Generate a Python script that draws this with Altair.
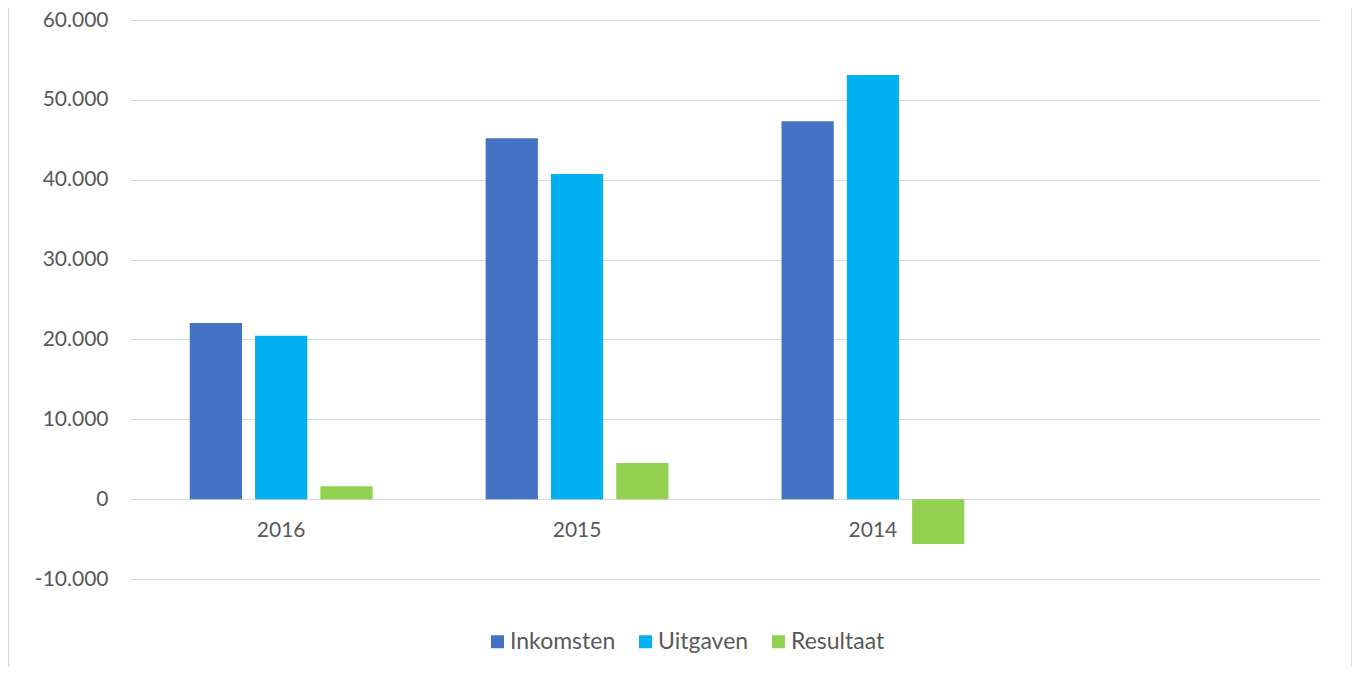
import altair as alt
import pandas as pd

years = ["2016", "2015", "2014"]
slots = ["2016", "2015", "2014", " "]
series = ["Inkomsten", "Uitgaven", "Resultaat"]
inkomsten = [22050, 45200, 47330]
uitgaven = [20450, 40700, 53100]
resultaat = [1620, 4540, -5620]
colors = ["#4472C4", "#00B0F0", "#92D050"]
y_ticks = [-10000, 0, 10000, 20000, 30000, 40000, 50000, 60000]

rows = []
for i, yr in enumerate(years):
    for s, vals in zip(series, [inkomsten, uitgaven, resultaat]):
        rows.append({"Jaar": yr, "Serie": s, "Waarde": vals[i]})
df = pd.DataFrame(rows)

FONT = "Lato"
GREY = "#595959"

bars = alt.Chart(df).mark_bar().encode(
    x=alt.X(
        "Jaar:N",
        scale=alt.Scale(domain=slots, paddingInner=0.338, paddingOuter=0.18),
        axis=alt.Axis(
            title=None, labelAngle=0, domain=False, ticks=False,
            labelFontSize=21, labelColor=GREY, labelFont=FONT,
            labelPadding=20, offset=-80,
        ),
    ),
    xOffset=alt.XOffset(
        "Serie:N",
        scale=alt.Scale(domain=series, paddingInner=0.2, paddingOuter=0.1),
    ),
    y=alt.Y(
        "Waarde:Q",
        scale=alt.Scale(domain=[-10000, 60000], nice=False, zero=False),
        axis=alt.Axis(
            title=None, values=y_ticks, domain=False, ticks=False,
            grid=True, gridColor="#d9d9d9", gridWidth=1,
            labelFontSize=21, labelColor=GREY, labelFont=FONT, labelPadding=22,
            labelExpr="replace(replace(format(datum.value, ','), ',', '.'), '\u2212', '-')",
        ),
    ),
    color=alt.Color(
        "Serie:N",
        scale=alt.Scale(domain=series, range=colors),
        legend=alt.Legend(
            title=None, orient="none", direction="horizontal",
            legendX=356, legendY=610,
            symbolType="square", symbolSize=169, symbolStrokeWidth=0,
            labelFontSize=23, labelColor=GREY, labelFont=FONT,
            labelOffset=1, columnPadding=18,
        ),
    ),
)

frame = alt.Chart(pd.DataFrame({"k": [0]})).mark_rule(color="#d9d9d9", strokeWidth=1.5).encode(
    x=alt.value(1222), y=alt.value(-20), y2=alt.value(680)
)
frame_left = alt.Chart(pd.DataFrame({"k": [0]})).mark_rule(color="#d9d9d9", strokeWidth=1.5).encode(
    x=alt.value(-121.5), y=alt.value(-20), y2=alt.value(680)
)

chart = alt.layer(bars, frame, frame_left).properties(
    width=1190, height=559,
    autosize=alt.AutoSizeParams(type="none"),
    padding={"left": 122, "top": 12, "right": 32, "bottom": 88},
).configure(font=FONT).configure_view(stroke=None, strokeWidth=0)

chart.save("out.html", embed_options={"renderer": "svg", "actions": False})
